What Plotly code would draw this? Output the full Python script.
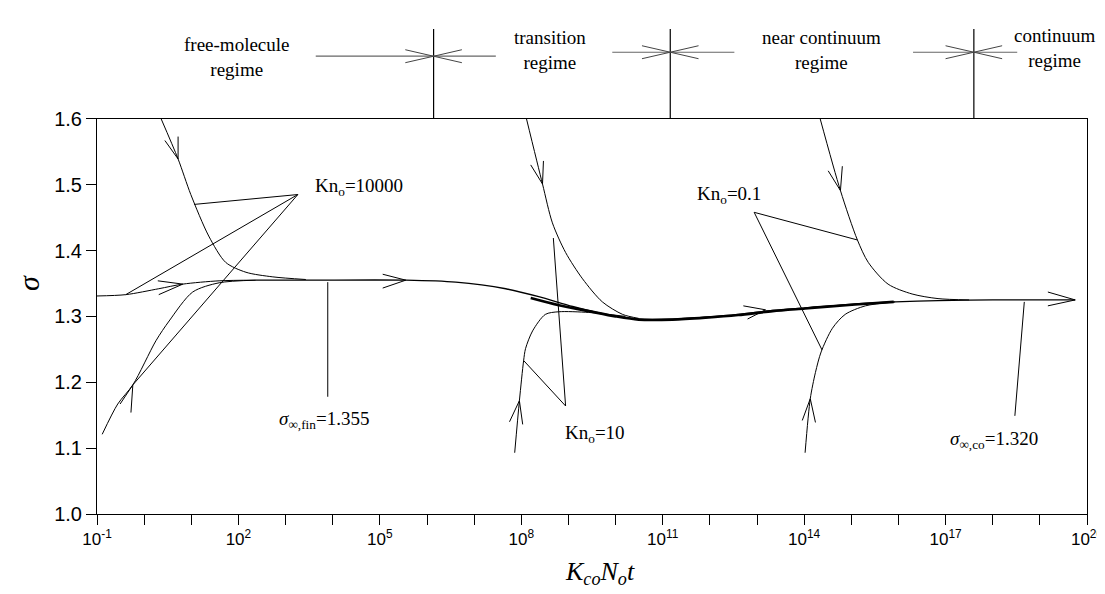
import plotly.graph_objects as go

# ---------------- data (x values are log10 of K_co*N_o*t) ----------------
x_tick_exp = [-1, 2, 5, 8, 11, 14, 17, 20]
x_minor_exp = list(range(-1, 21))
y_ticks = [1.0, 1.1, 1.2, 1.3, 1.4, 1.5, 1.6]

# free-molecule regime, Kn_o = 10000
fm_top_logx = [0.36, 0.72, 0.99, 1.37, 1.73, 2.16, 2.73, 3.43]
fm_top_sigma = [1.600, 1.539, 1.485, 1.422, 1.382, 1.367, 1.360, 1.356]
fm_mid_logx = [-1.0, -0.39, 0.31, 0.82, 1.59, 2.37]
fm_mid_sigma = [1.331, 1.333, 1.342, 1.349, 1.354, 1.355]
fm_low_logx = [-0.89, -0.56, -0.24, 0.25, 0.53, 1.03, 1.59, 2.37]
fm_low_sigma = [1.121, 1.167, 1.196, 1.263, 1.293, 1.337, 1.351, 1.355]

# self-preserving path of sigma
main_logx = [2.37, 3.5, 5.55, 6.61, 7.67, 8.37, 9.09, 9.79, 10.49, 11.21,
             11.91, 12.60, 13.33, 14.02, 15.08, 15.93, 16.84, 18.0, 19.75]
main_sigma = [1.355, 1.355, 1.355, 1.352, 1.342, 1.330, 1.315, 1.303, 1.296, 1.296,
              1.299, 1.303, 1.309, 1.313, 1.319, 1.322, 1.324, 1.325, 1.325]
bundle_logx = [8.2, 8.8, 9.43, 10.0, 10.49, 11.21, 11.91, 12.60, 13.33, 14.02, 15.08, 15.9]
bundle_sigma = [1.328, 1.317, 1.308, 1.300, 1.295, 1.295, 1.298, 1.302, 1.308, 1.312, 1.318, 1.322]

# transition regime, Kn_o = 10
tr_top_logx = [8.11, 8.45, 8.66, 8.94, 9.30, 9.72, 10.15, 10.49]
tr_top_sigma = [1.600, 1.501, 1.442, 1.397, 1.357, 1.322, 1.303, 1.297]
tr_low_logx = [7.86, 7.96, 8.05, 8.09, 8.24, 8.51, 8.79, 9.43, 10.21]
tr_low_sigma = [1.093, 1.172, 1.233, 1.251, 1.278, 1.303, 1.307, 1.306, 1.300]

# near continuum regime, Kn_o = 0.1
nc_top_logx = [14.34, 14.77, 15.13, 15.36, 15.78, 16.29, 16.84, 17.5]
nc_top_sigma = [1.600, 1.491, 1.416, 1.382, 1.349, 1.334, 1.327, 1.325]
nc_low_logx = [14.02, 14.13, 14.24, 14.36, 14.60, 14.87, 15.30, 15.93]
nc_low_sigma = [1.093, 1.175, 1.215, 1.246, 1.282, 1.303, 1.316, 1.322]

# leader lines: [(logx0, sigma0), (logx1, sigma1)]
leaders = [
    [(3.26, 1.485), (1.06, 1.470)],
    [(3.26, 1.485), (-0.39, 1.333)],
    [(3.26, 1.485), (-0.24, 1.196)],
    [(8.68, 1.419), (8.94, 1.164)],
    [(8.05, 1.233), (8.94, 1.164)],
    [(12.94, 1.458), (14.38, 1.249)],
    [(12.94, 1.458), (15.13, 1.416)],
    [(3.895, 1.352), (3.895, 1.178)],
    [(18.67, 1.322), (18.47, 1.149)],
]

# arrowheads: barb, tip, barb
arrowheads = [
    [(0.44, 1.567), (0.72, 1.539), (0.72, 1.573)],
    [(0.29, 1.354), (0.82, 1.349), (0.31, 1.333)],
    [(-0.51, 1.167), (-0.24, 1.196), (-0.28, 1.154)],
    [(5.06, 1.364), (5.55, 1.355), (5.06, 1.343)],
    [(8.20, 1.530), (8.45, 1.501), (8.47, 1.536)],
    [(7.75, 1.140), (7.96, 1.172), (8.03, 1.136)],
    [(14.51, 1.521), (14.77, 1.491), (14.81, 1.528)],
    [(13.96, 1.142), (14.13, 1.175), (14.24, 1.139)],
    [(12.71, 1.316), (13.18, 1.310), (12.80, 1.296)],
    [(19.17, 1.337), (19.75, 1.325), (19.17, 1.316)],
]

# text labels: (text, logx, sigma)
labels = [
    ("Kn<sub>o</sub>=10000", 4.55, 1.497),
    ("Kn<sub>o</sub>=10", 9.57, 1.121),
    ("Kn<sub>o</sub>=0.1", 12.4, 1.484),
    ("<i>σ</i><sub>∞,fin</sub>=1.355", 3.81, 1.143),
    ("<i>σ</i><sub>∞,co</sub>=1.320", 18.03, 1.112),
]

# regime strip above the plot (strip height runs 0..1)
regime_names = ["free-molecule<br>regime", "transition<br>regime",
                "near continuum<br>regime", "continuum<br>regime"]
regime_name_logx = [1.95, 8.6, 14.36, 19.3]
regime_name_y = [0.62, 0.69, 0.69, 0.71]
boundary_logx = [6.14, 11.16, 17.6]
boundary_top = 0.90
boundary_arrow_y = [0.627, 0.667, 0.667]
boundary_left_tail = [3.64, 9.93, 16.31]
boundary_right_tail = [7.46, 12.52, 18.52]
barb_span = 0.6
barb_half = 0.065

# ---------------------------------------------------------------------------
def P(v):
    return [10.0 ** a for a in v]

BLACK = "black"
SERIF = "Liberation Serif"
SANS = "Liberation Sans"

fig = go.Figure()

def line(lx, ly, width=1.0, shape="linear", color=BLACK, yaxis="y"):
    fig.add_trace(go.Scatter(x=P(lx), y=ly, mode="lines", yaxis=yaxis,
                             line=dict(color=color, width=width, shape=shape, smoothing=0.8),
                             hoverinfo="skip", showlegend=False))

for lx, ly in [(fm_top_logx, fm_top_sigma), (fm_mid_logx, fm_mid_sigma),
               (fm_low_logx, fm_low_sigma), (tr_top_logx, tr_top_sigma),
               (tr_low_logx, tr_low_sigma), (nc_top_logx, nc_top_sigma),
               (nc_low_logx, nc_low_sigma)]:
    line(lx, ly, 1.0, "spline")

line(main_logx, main_sigma, 1.4, "spline")
line(bundle_logx, bundle_sigma, 2.6, "spline")

for seg in leaders:
    line([p[0] for p in seg], [p[1] for p in seg], 1.0)

for ah in arrowheads:
    line([p[0] for p in ah], [p[1] for p in ah], 1.0)

# regime strip
for i, bx in enumerate(boundary_logx):
    line([bx, bx], [0, boundary_top], 1.2, yaxis="y2")
    ay = boundary_arrow_y[i]
    line([boundary_left_tail[i], bx], [ay, ay], 1.2, color="#666", yaxis="y2")
    line([bx, boundary_right_tail[i]], [ay, ay], 1.2, color="#666", yaxis="y2")
    line([bx - barb_span, bx, bx - barb_span], [ay + barb_half, ay, ay - barb_half], 1.0,
         color="#444", yaxis="y2")
    line([bx + barb_span, bx, bx + barb_span], [ay + barb_half, ay, ay - barb_half], 1.0,
         color="#444", yaxis="y2")

annotations = []
for t, lx, ly in labels:
    annotations.append(dict(text=t, x=lx, y=ly, xref="x", yref="y", showarrow=False,
                            xanchor="center", yanchor="middle",
                            font=dict(family=SERIF, size=19, color=BLACK)))
for t, lx, ly in zip(regime_names, regime_name_logx, regime_name_y):
    annotations.append(dict(text=t, x=lx, y=ly, xref="x", yref="y2", showarrow=False,
                            xanchor="center", yanchor="middle",
                            font=dict(family=SERIF, size=19, color=BLACK)))
annotations.append(dict(text="<i>σ</i>", x=-0.069, y=0.466, xref="paper", yref="paper",
                        xanchor="center", yanchor="middle",
                        showarrow=False, textangle=-90,
                        font=dict(family=SERIF, size=30, color=BLACK)))
annotations.append(dict(text="<i>K<sub>co</sub>N<sub>o</sub>t</i>", x=0.508, y=-0.119,
                        xref="paper", yref="paper", showarrow=False,
                        xanchor="center", yanchor="middle",
                        font=dict(family=SERIF, size=26, color=BLACK)))

fig.update_layout(
    width=1105, height=594,
    margin=dict(l=89, r=26, t=0, b=88),
    paper_bgcolor="white", plot_bgcolor="white",
    showlegend=False,
    annotations=annotations,
    xaxis=dict(type="log", range=[-1, 20], anchor="y",
               tickvals=P(x_tick_exp),
               ticktext=[f"10<sup>{e}</sup>" for e in x_tick_exp],
               ticks="outside", ticklen=10, tickwidth=1, tickcolor=BLACK,
               showline=True, linecolor=BLACK, linewidth=1, mirror=True,
               showgrid=False, zeroline=False, ticklabeloverflow="allow",
               minor=dict(tickvals=P(x_minor_exp), ticks="outside", ticklen=10,
                          tickwidth=1, tickcolor=BLACK, showgrid=False),
               tickfont=dict(family=SANS, size=17, color=BLACK)),
    yaxis=dict(range=[1.0, 1.6], domain=[0, 404 / 506], anchor="x",
               tickvals=y_ticks, tickformat=".1f",
               ticks="outside", ticklen=10, tickwidth=1, tickcolor=BLACK,
               showline=True, linecolor=BLACK, linewidth=1, mirror=True,
               showgrid=False, zeroline=False,
               tickfont=dict(family=SANS, size=20, color=BLACK)),
    yaxis2=dict(range=[0, 1], domain=[404 / 506, 1], anchor="x", visible=False,
                showgrid=False, zeroline=False),
)

fig.write_html("out.html")
